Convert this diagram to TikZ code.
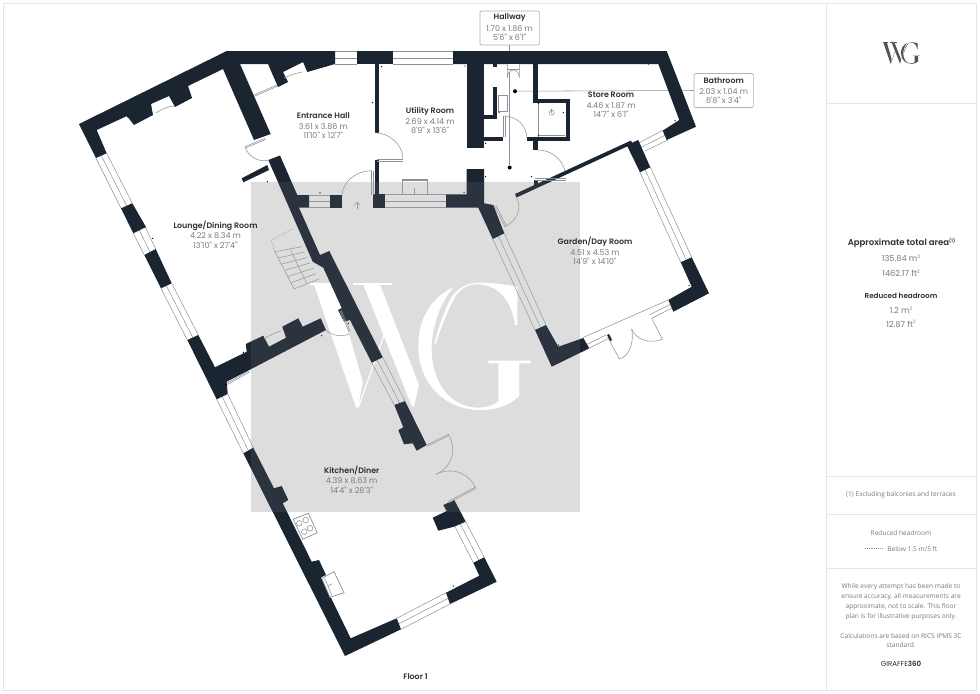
\documentclass[tikz,border=0pt]{standalone}
\usepackage{fontspec}
\setmainfont{Open Sans}
\newfontfamily\popf{Poppins}
\newfontfamily\pophead{Poppins SemiBold}
\usetikzlibrary{calc}
\definecolor{wallc}{HTML}{1B2431}
\definecolor{thinc}{HTML}{8E9196}
\definecolor{txtc}{HTML}{7A7A7A}
\definecolor{headc}{HTML}{2B2F36}
\definecolor{framec}{HTML}{E6E6E6}
\definecolor{grayq}{HTML}{DBDBDB}
\definecolor{logoc}{HTML}{4F5558}
\tikzset{
  wall/.style={fill=wallc,draw=none},
  glass/.style={draw=thinc,line width=0.38pt},
  doorline/.style={draw=thinc,line width=0.4pt},
  fixture/.style={draw=thinc,line width=0.55pt,fill=white},
  roomtxt/.style={align=center,inner sep=0pt,font=\popf\fontsize{6.0}{7}\selectfont,text=txtc},
  roomhead/.style={align=center,inner sep=0pt,font=\pophead\fontsize{5.9}{7}\selectfont,text=headc},
  paneltxt/.style={align=center,inner sep=0pt,font=\fontsize{4.95}{7}\selectfont,text=txtc},
  callout/.style={draw=thinc!70,line width=0.5pt,rounded corners=1pt,fill=white,inner sep=0pt},
  leader/.style={draw=thinc,line width=0.4pt},
  dotnode/.style={circle,fill=black,inner sep=0pt,minimum size=3pt},
  tick/.style={fill=black,draw=none}
}
% a glazed opening: (a)(b) one end, (c)(d) the other end
\newcommand{\glazed}[4]{%
  \draw[glass] #1 -- #3;
  \draw[glass] #2 -- #4;
  \draw[glass] ($#1!0.5!#2$) -- ($#3!0.5!#4$);
}
\newcommand{\wgshape}[1]{%
  \fill[#1] (60,38)--(148,38)--(148,44)--(60,44)--cycle;
  \fill[#1] (72,44)--(135,44)--(218,335)--(205,412)--(198,412)--cycle;
  \fill[#1] (203,412)--(207,412)--(286,190)--(283,188)--cycle;
  \fill[#1] (188,38)--(306,38)--(306,44)--(188,44)--cycle;
  \fill[#1] (220,44)--(270,44)--(387,345)--(372,410)--(366,410)--cycle;
  \fill[#1]
   (490,52) .. controls (420,85) and (385,150) .. (385,228)
   .. controls (385,345) and (470,420) .. (570,420)
   .. controls (620,420) and (660,405) .. (688,378) -- (688,280) -- (722,280) -- (722,272) -- (595,272) -- (595,280) -- (625,280) -- (625,395)
   .. controls (605,408) and (585,413) .. (565,413)
   .. controls (480,413) and (425,335) .. (425,240)
   .. controls (425,170) and (450,100) .. (490,52) -- cycle;
  \fill[#1]
   (433,222) .. controls (445,170) and (470,100) .. (490,75)
   .. controls (510,50) and (535,38) .. (570,38)
   .. controls (610,38) and (650,44) .. (682,50) -- (682,165) -- (675,165)
   .. controls (665,95) and (630,44) .. (560,43)
   .. controls (530,43) and (505,60) .. (490,90)
   .. controls (470,130) and (450,180) .. (437,224) -- cycle;
}
\newcommand{\smallsup}[1]{\raisebox{2.4pt}{\fontsize{3.4}{3.4}\selectfont #1}}
\begin{document}
\begin{tikzpicture}[x=0.75pt,y=-0.75pt]
\useasboundingbox (0,0) rectangle (980,693);
\fill[white] (0,0) rectangle (980,693);
% frame and side panel
\draw[framec,line width=0.6pt] (3.5,3.5) rectangle (976,690.5);
\draw[framec,line width=0.6pt] (826.5,3.5) -- (826.5,690.5);
\draw[framec,line width=0.6pt] (826.5,103) -- (976,103);
\draw[framec,line width=0.6pt] (826.5,476) -- (976,476);
\draw[framec,line width=0.6pt] (826.5,514) -- (976,514);
\draw[framec,line width=0.6pt] (826.5,568) -- (976,568);
% grey square and watermark
\fill[grayq] (251,182) rectangle (580,512);
\begin{scope}[shift={(290,270)},scale=0.3333]
\wgshape{white}
\end{scope}
% logo
\begin{scope}[shift={(879.3,40.2)},scale=0.0563]
\wgshape{logoc}
\end{scope}
% leaders (under the walls)
\node[dotnode] (halldot) at (509.7,167.5) {};
\node[dotnode] (bathdot) at (515,91.2) {};
\node[callout,minimum width=44.5pt,minimum height=25.5pt] (hallbox) at (509.7,28) {};
\node[callout,minimum width=44.5pt,minimum height=25.5pt] (bathbox) at (723.7,90.5) {};
\draw[leader] (hallbox.south) -- (halldot);
\draw[leader] (bathbox.west) -- (bathdot);
% windows
\glazed{(335,51.5)}{(335,64)}{(357,51.5)}{(357,64)}
\glazed{(393,51.5)}{(393,64)}{(453,51.5)}{(453,64)}
\glazed{(309,195)}{(309,207.7)}{(330.3,195)}{(330.3,207.7)}
\glazed{(385,194.3)}{(385,207.7)}{(446,194.3)}{(446,207.7)}
\glazed{(96,158.3)}{(106.7,153.3)}{(121,208.3)}{(132.3,203.3)}
\glazed{(133.3,233.3)}{(145,226.7)}{(144.3,255)}{(155.7,249)}
\glazed{(161,288.3)}{(171.7,283.3)}{(187.3,340)}{(198.3,335)}
\glazed{(216.7,399.3)}{(227.7,394)}{(243.3,453.3)}{(253.3,447.7)}
\glazed{(371.7,362.7)}{(382.7,357.3)}{(394.3,405)}{(405,401)}
\glazed{(455,526.7)}{(465.7,521.7)}{(473.3,562.7)}{(484.3,557.3)}
\glazed{(446,592.7)}{(450,604)}{(396.7,618.3)}{(401,629.3)}
\glazed{(492.7,239)}{(504.3,233.3)}{(535,330)}{(546,325)}
\glazed{(640,172.3)}{(650.3,167.3)}{(680.7,262.3)}{(691.7,257.3)}
\glazed{(638.3,143.3)}{(645,151)}{(663.3,130)}{(667.7,140)}
% walls
\fill[wall] (226.7,51) -- (335,51) -- (335,64) -- (307.3,72) -- (303,62) -- (283,72) -- (288,82) -- (278,87) -- (268,64) -- (240,64) -- (270.7,134) -- (254,140) -- (223,69) -- (188,86) -- (192,98) -- (175,107) -- (169,96) -- (151,104) -- (153,115) -- (134,125) -- (127,116) -- (96.7,130) -- (106.7,153.3) -- (96,158) -- (79,124) -- cycle;
\fill[wall] (357,51) rectangle (393,64);
\fill[wall] (268.3,160) -- (280,155.5) -- (297.3,195) -- (309,195) -- (309,207.7) -- (299,207.7) -- (320,255) -- (329.3,251) -- (382.7,357.3) -- (371.7,362.7) -- (350,320) -- (344,321.7) -- (338,310) -- (341.7,308) -- (323.3,267.7) -- (312.7,261.7) -- cycle;
\fill[wall] (241.7,178.3) -- (243.3,182.3) -- (269,170) -- (267.3,165) -- cycle;
\fill[wall] (330.3,195) rectangle (342,207.7);
\fill[wall] (375,64) rectangle (379.3,133);
\fill[wall] (374.5,160) rectangle (379.3,196);
\fill[wall] (372.7,194.3) rectangle (385,207.7);
\fill[wall] (121,208.3) -- (132.3,203.3) -- (146,227) -- (133.3,233.3) -- cycle;
\fill[wall] (144.3,255) -- (155.7,249) -- (171.7,283.3) -- (161,288.3) -- cycle;
\fill[wall] (187.3,340) -- (198.3,335) -- (215,367.3) -- (246.7,351.7) -- (245.7,344) -- (263.3,335.7) -- (269,346.7) -- (286,337.7) -- (282.3,326.7) -- (298.3,318.3) -- (302.7,326.7) -- (320.7,318.3) -- (326,330) -- (249.3,370) -- (226.7,381.7) -- (227.7,394) -- (216.7,399.3) -- cycle;
\fill[wall] (394.3,405) -- (405,401) -- (426.7,445) -- (416.7,450.7) -- (412.7,443.3) -- (404,444.3) -- (398.3,430) -- (403.3,427.3) -- cycle;
\fill[wall] (443.3,505) -- (454.3,500) -- (465.7,521.7) -- (454,526.7) -- (438.3,530.7) -- (432.7,517.7) -- (446.7,511) -- cycle;
\fill[wall] (473.3,562.7) -- (484.3,557.3) -- (496.7,581.7) -- (450,604) -- (446,592.7) -- (479.3,575.7) -- cycle;
\fill[wall] (396.7,618.3) -- (401,629.3) -- (345,656) -- (243.3,453.3) -- (253.3,447.7) -- (274,488.3) -- (281.7,486) -- (288.3,500) -- (282.7,503.3) -- (311.7,561.7) -- (319,560) -- (326,575) -- (321,577.3) -- (350.7,638.3) -- cycle;
\fill[wall] (446,194.3) -- (466.7,194.3) -- (466.7,169) -- (484,169) -- (484,203.3) -- (493.3,205) -- (504.3,233.3) -- (492.7,239) -- (478.3,207.7) -- (446,207.7) -- cycle;
\fill[wall] (535,330) -- (546,325) -- (558.3,346.7) -- (583.3,338) -- (589.3,348.3) -- (551.7,366.7) -- cycle;
\fill[wall] (668.3,300) -- (691.7,286.7) -- (680.7,262.3) -- (691.7,257.3) -- (709,293.3) -- (673.3,311.7) -- cycle;
\fill[wall] (640,172.3) -- (650.3,167.3) -- (638.3,140) -- (626.7,145) -- cycle;
\fill[wall] (515,194) -- (631,140.5) -- (632.5,144) -- (516.5,197.5) -- cycle;
\fill[wall] (453,51) -- (666.7,51) -- (696,126.7) -- (666.7,140) -- (662.7,130.7) -- (679.3,120) -- (658.3,64) -- (453,64) -- cycle;
\fill[wall] (466.7,64) rectangle (483.5,148);
\fill[wall] (492.7,64) rectangle (496.7,67.3);
\fill[wall] (492.7,86.7) rectangle (496.7,119);
\fill[wall] (483.5,115) rectangle (496.7,119);
\fill[wall] (483.5,137.3) rectangle (502.7,141);
\fill[wall] (532.7,64) rectangle (537.5,103);
\fill[wall] (532.7,99) rectangle (570,103.3);
\fill[wall] (565.5,99) rectangle (570,141);
\fill[wall] (526.7,136.7) rectangle (570,141);
\fill[wall] (532.7,141) rectangle (537.5,149.5);
\fill[wall] (533.5,180) rectangle (537.5,185);
% thin lines and fixed glazing
\draw[doorline] (254,95) -- (277,85);
\draw[doorline] (254.5,96.2) -- (277.5,86.2);
\draw[doorline] (226.7,383.3) -- (249.3,370.7);
\draw[doorline] (227.2,384.5) -- (249.8,371.9);
\draw[doorline] (583,337.5) -- (668.3,300);
\draw[doorline] (589,348.3) -- (607.7,338.8);
\draw[doorline] (587,344.5) -- (606,335);
\draw[doorline] (651.7,318.3) -- (672,308);
\draw[doorline] (650,314.5) -- (670,304.5);
\fill[wallc] (607,335) -- (609,334) -- (612,340) -- (610,341) -- cycle;
% doors
\draw[doorline] (245,146.7) -- (265,138.3);
\draw[doorline] (245.5,148) -- (265.5,139.5);
\draw[doorline] (245,147) .. controls (248,156) and (258,163) .. (269,160);
\draw[doorline] (375,132.7) .. controls (390,133) and (403,145) .. (403,159.3);
\draw[doorline] (377,159.3) -- (403,159.3);
\draw[doorline] (377,161) -- (403,161);
\draw[doorline] (342,195) .. controls (343,182) and (355,171) .. (371.7,170.7);
\draw[doorline] (371.7,170.7) -- (371.7,195);
\draw[doorline] (373,170.7) -- (373,195);
\draw[doorline] (503.3,116) .. controls (516,116) and (526.7,125) .. (526.7,137.3);
\draw[doorline] (503.3,116) -- (503.3,137.3);
\draw[doorline] (505,116) -- (505,137.3);
\draw[doorline] (537.7,150) .. controls (552,150) and (563,160) .. (565,171.7);
\draw[doorline] (535,178.3) -- (566,178.3);
\draw[doorline] (535,180) -- (566,180);
\draw[doorline] (516.5,197.5) .. controls (522,208) and (518,220) .. (505,226.7);
\draw[doorline] (494.5,206) -- (505,226.7);
\draw[doorline] (496,205.5) -- (506.5,226);
\draw[doorline] (426.7,445) -- (448.3,434.3);
\draw[doorline] (427.3,446.2) -- (449,435.5);
\draw[doorline] (448.3,434.3) .. controls (457,448) and (453,467) .. (436,474.3);
\draw[doorline] (448.3,503) -- (476,488.3);
\draw[doorline] (447.6,501.8) -- (475.3,487.1);
\draw[doorline] (476,488.3) .. controls (470,474) and (453,466) .. (436,474.3);
\draw[doorline] (607.7,337.3) -- (619.3,359);
\draw[doorline] (619.3,359) .. controls (630,356) and (634,342) .. (631.7,329);
\draw[doorline] (651.7,318.3) -- (662.3,339.3);
\draw[doorline] (662.3,339.3) .. controls (650,344) and (636,340) .. (631.7,329);
\draw[doorline] (284,78) .. controls (288,76) and (296,73) .. (302,72);
\draw[doorline] (156,113) .. controls (160,110) and (168,106) .. (174,106);
\draw[doorline] (264,339) .. controls (268,336) and (276,332) .. (281,331);
\draw[doorline] (326,330) .. controls (332,336) and (342,337) .. (349,334);
\draw[doorline] (340,311) -- (349,332);
\draw[doorline] (341.2,310.4) -- (350.2,331.4);
% stairs
\foreach \i in {0,...,6}{
  \draw[doorline] ($(275,251.7)!\i/6!(294,289)$) -- ($(301.7,246.7)!\i/6!(319,279)$);
}
\draw[doorline] (275,251.7) -- (294,289);
\draw[doorline] (290,249) -- (306.7,283.5);
\draw[doorline,dash pattern=on 1pt off 1pt] (275,251.7) -- (271,240) -- (292.7,229);
% fixtures
\draw[fixture] (293.3,519.3) -- (308.3,513.3) -- (317.3,532.7) -- (302.7,539.3) -- cycle;
\foreach \p in {(299.3,523.3),(305.7,520),(304.3,531.7),(310,528.3)}{\draw[doorline] \p circle (2.8);}
\draw[fixture] (321.7,578.3) -- (334,571.7) -- (344,592.7) -- (330,597.3) -- cycle;
\draw[doorline] (324.5,578) -- (332,595.5);
\draw[doorline] (328.3,585.7) -- (332.3,583.7);
\draw[thinc,line width=0.9pt] (402.3,180) rectangle (427.3,194.3);
\draw[doorline] (414.3,188) -- (414.3,194.3);
\draw[thinc,line width=0.9pt] (498.3,95.7) rectangle (507.7,111.7);
\draw[doorline,fill=white] (507.3,64) -- (507.3,78) arc[start angle=180,end angle=360,x radius=6,y radius=8] -- (519.3,64);
\draw[doorline] (507.3,69.3) -- (519.3,69.3);
\draw[doorline] (551.7,112.7) circle (2.5);
\draw[doorline] (551.7,108.5) -- (551.7,112.7);
\draw[thinc,line width=0.8pt] (538.8,103.5) -- (538.8,136.5);
\draw[thinc,line width=0.8pt] (538.8,135.6) -- (565,135.6);
\draw[doorline] (357.3,209) -- (357.3,202.3);
\draw[doorline] (354.3,205.3) -- (357.3,202.3) -- (360.3,205.3);
% small marks
\foreach \p in {(326,66),(381.7,66.7),(372.7,102.7),(320,192.7),(648.3,64),(465,66),(675,120.7),(464,192.3),(485.5,176.7),(531.5,176.7),(485.7,143.3),(538.3,103.3),(538.3,135),(563.3,112.7),(499,112.3),(152.7,238.3),(127.3,116.7),(267.3,181.7),(321.7,335.7),(243.3,352.3),(225.7,385),(348.3,323.3),(689,285.7),(558.3,345),(453.3,586)}{
  \fill[tick] \p circle (0.7);
}
% lighter veil of the grey square over the walls
\fill[white,opacity=0.07] (251,182) rectangle (580,512);
% room labels
\node[roomhead] (t1) at (323.3,116) {Entrance Hall};
\node[roomtxt] (t1a) at (323.3,126.7) {3.61 x 3.86 m};
\node[roomtxt] (t1b) at (323.3,135.6) {11'10" x 12'7"};
\node[roomhead] (t2) at (430,111) {Utility Room};
\node[roomtxt] (t2a) at (430,122) {2.69 x 4.14 m};
\node[roomtxt] (t2b) at (430,130.7) {8'9" x 13'6"};
\node[roomhead] (t3) at (611,95) {Store Room};
\node[roomtxt] (t3a) at (611,105.7) {4.46 x 1.87 m};
\node[roomtxt] (t3b) at (611,114.7) {14'7" x 6'1"};
\node[roomhead] (t4) at (215.5,225.7) {Lounge/Dining Room};
\node[roomtxt] (t4a) at (215.5,235.7) {4.22 x 8.34 m};
\node[roomtxt] (t4b) at (215.5,245) {13'10" x 27'4"};
\node[roomhead] (t5) at (351.7,470) {Kitchen/Diner};
\node[roomtxt] (t5a) at (351.7,480.7) {4.39 x 8.63 m};
\node[roomtxt] (t5b) at (351.7,490) {14'4" x 28'3"};
\node[roomhead] (t6) at (595,242) {Garden/Day Room};
\node[roomtxt] (t6a) at (595,252.3) {4.51 x 4.53 m};
\node[roomtxt] (t6b) at (595,261.7) {14'9" x 14'10"};
\node[roomhead] (t7) at (509.7,18) {Hallway};
\node[roomtxt] (t7a) at (509.7,28.7) {1.70 x 1.86 m};
\node[roomtxt] (t7b) at (509.7,37.7) {5'6" x 6'1"};
\node[roomhead] (t8) at (723.7,80.7) {Bathroom};
\node[roomtxt] (t8a) at (723.7,91.3) {2.03 x 1.04 m};
\node[roomtxt] (t8b) at (723.7,100.3) {6'8" x 3'4"};
\node[roomhead] (t9) at (415.5,677) {Floor 1};
% side panel text
\node[align=center,inner sep=0pt,font=\pophead\fontsize{6.4}{8}\selectfont,text=headc] (p1) at (901.5,243.3) {Approximate total area\smallsup{(1)}};
\node[roomtxt,font=\popf\fontsize{6.2}{8}\selectfont] (p2) at (901,258.3) {135.84 m\smallsup{2}};
\node[roomtxt,font=\popf\fontsize{6.2}{8}\selectfont] (p3) at (901,273) {1462.17 ft\smallsup{2}};
\node[roomhead,font=\pophead\fontsize{5.4}{7}\selectfont] (p4) at (901,295.7) {Reduced headroom};
\node[roomtxt,font=\popf\fontsize{6.2}{8}\selectfont] (p5) at (901,310) {1.2 m\smallsup{2}};
\node[roomtxt,font=\popf\fontsize{6.2}{8}\selectfont] (p6) at (901,324) {12.87 ft\smallsup{2}};
\node[paneltxt] (p7) at (901,495) {(1) Excluding balconies and terraces};
\node[paneltxt] (p8) at (901,533) {Reduced headroom};
\draw[thinc,line width=0.5pt,dash pattern=on 0.6pt off 0.8pt] (865,548.7) -- (882.3,548.7);
\node[paneltxt] (p9) at (912.3,548.7) {Below 1.5 m/5 ft};
\node[paneltxt] (p10) at (901,586.7) {While every attempt has been made to};
\node[paneltxt] (p11) at (901,596.6) {ensure accuracy, all measurements are};
\node[paneltxt] (p12) at (901,606.5) {approximate, not to scale. This floor};
\node[paneltxt] (p13) at (901,616.4) {plan is for illustrative purposes only.};
\node[paneltxt] (p14) at (901,635.6) {Calculations are based on RICS IPMS 3C};
\node[paneltxt] (p15) at (901,645.2) {standard.};
\node[paneltxt,text=headc,font=\popf\fontsize{5.3}{7}\selectfont] (p16) at (901,664.3) {GIRAFFE{\pophead 360}};
\end{tikzpicture}
\end{document}
